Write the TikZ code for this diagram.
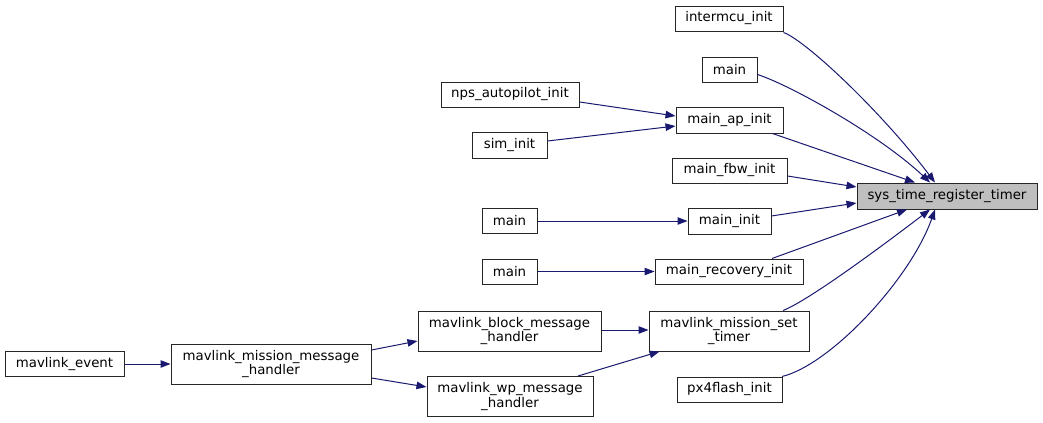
\documentclass[tikz,border=0pt]{standalone}
\usepackage{fontspec}
\setmainfont{DejaVu Sans}
\usetikzlibrary{calc,arrows.meta}
\definecolor{edgeblue}{HTML}{191970}
\definecolor{hlgray}{HTML}{BFBFBF}
\tikzset{
  box/.style={draw=black!85, line width=0.75pt, fill=white, rectangle, inner sep=0pt,
    align=center, font=\fontsize{10}{11.2}\selectfont, text=black},
  hl/.style={box, fill=hlgray},
  edge/.style={draw=edgeblue, line width=0.75pt, -{Triangle[length=7.5pt,width=5.6pt]}}
}
\begin{document}
\begin{tikzpicture}[x=0.75pt,y=-0.75pt]
\useasboundingbox (0,0) rectangle (1043,422);
% nodes
\node[box, minimum width=108*0.75pt, minimum height=25*0.75pt] (imcu) at (729,18.5) {intermcu\_init};
\node[box, minimum width=55*0.75pt, minimum height=25*0.75pt] (mainA) at (729.5,69.5) {main};
\node[box, minimum width=107*0.75pt, minimum height=26*0.75pt] (mapi) at (729.5,120) {main\_ap\_init};
\node[box, minimum width=115*0.75pt, minimum height=25*0.75pt] (mfbw) at (729.5,170.5) {main\_fbw\_init};
\node[hl, minimum width=180*0.75pt, minimum height=26*0.75pt] (sys) at (947,196) {sys\_time\_register\_timer};
\node[box, minimum width=83*0.75pt, minimum height=26*0.75pt] (minit) at (729.5,221) {main\_init};
\node[box, minimum width=148*0.75pt, minimum height=25*0.75pt] (mrec) at (729,271.5) {main\_recovery\_init};
\node[box, minimum width=160*0.75pt, minimum height=40*0.75pt] (mset) at (729,331) {mavlink\_mission\_set\\\_timer};
\node[box, minimum width=105*0.75pt, minimum height=25*0.75pt] (px4) at (729.5,389.5) {px4flash\_init};
\node[box, minimum width=138*0.75pt, minimum height=25*0.75pt] (nps) at (510,94.5) {nps\_autopilot\_init};
\node[box, minimum width=75*0.75pt, minimum height=26*0.75pt] (sim) at (509.5,145) {sim\_init};
\node[box, minimum width=55*0.75pt, minimum height=25*0.75pt] (mainB) at (509.5,221) {main};
\node[box, minimum width=55*0.75pt, minimum height=25*0.75pt] (mainC) at (509.5,271.5) {main};
\node[box, minimum width=183*0.75pt, minimum height=40*0.75pt] (mblk) at (509.5,331) {mavlink\_block\_message\\\_handler};
\node[box, minimum width=166*0.75pt, minimum height=40*0.75pt] (mwp) at (510,396.5) {mavlink\_wp\_message\\\_handler};
\node[box, minimum width=200*0.75pt, minimum height=40*0.75pt] (mmsg) at (271,364) {mavlink\_mission\_message\\\_handler};
\node[box, minimum width=119*0.75pt, minimum height=25*0.75pt] (mev) at (64.5,364) {mavlink\_event};
% edges into sys
\draw[edge] ($(imcu.south east)+(0,1)$) .. controls (805,40) and (880,110) .. ($(sys.north)+(-12,0)$);
\draw[edge] ($(mainA.east)+(0,5)$) .. controls (790,85) and (880,135) .. ($(sys.north)+(-17,0)$);
\draw[edge] ($(mapi.south)+(43,0)$) -- ($(sys.north)+(-32,0)$);
\draw[edge] ($(mfbw.east)+(0,5.5)$) -- ($(sys.west)+(0,-9)$);
\draw[edge] ($(minit.east)+(0,-5)$) -- ($(sys.west)+(0,7)$);
\draw[edge] ($(mrec.north)+(43,0)$) -- ($(sys.south)+(-40,0)$);
\draw[edge] ($(mset.north)+(54,0)$) .. controls (810,300) and (890,240) .. ($(sys.south)+(-17,0)$);
\draw[edge] ($(px4.north)+(52.5,0)$) .. controls (830,365) and (910,280) .. ($(sys.south)+(-12,0)$);
% second level
\draw[edge] ($(nps.east)+(0,7.5)$) -- ($(mapi.west)+(0,-4)$);
\draw[edge] ($(sim.east)+(0,-4)$) -- ($(mapi.west)+(0,6)$);
\draw[edge] (mainB.east) -- (minit.west);
\draw[edge] (mainC.east) -- (mrec.west);
\draw[edge] ($(mblk.east)+(0,-1)$) -- ($(mset.west)+(0,-1)$);
\draw[edge] ($(mwp.north)+(68,0)$) -- ($(mset.south west)+(11,0)$);
\draw[edge] ($(mmsg.east)+(0,-14)$) -- ($(mblk.west)+(0,10)$);
\draw[edge] ($(mmsg.east)+(0,14)$) -- ($(mwp.west)+(0,-9.5)$);
\draw[edge] (mev.east) -- (mmsg.west);
\end{tikzpicture}
\end{document}
